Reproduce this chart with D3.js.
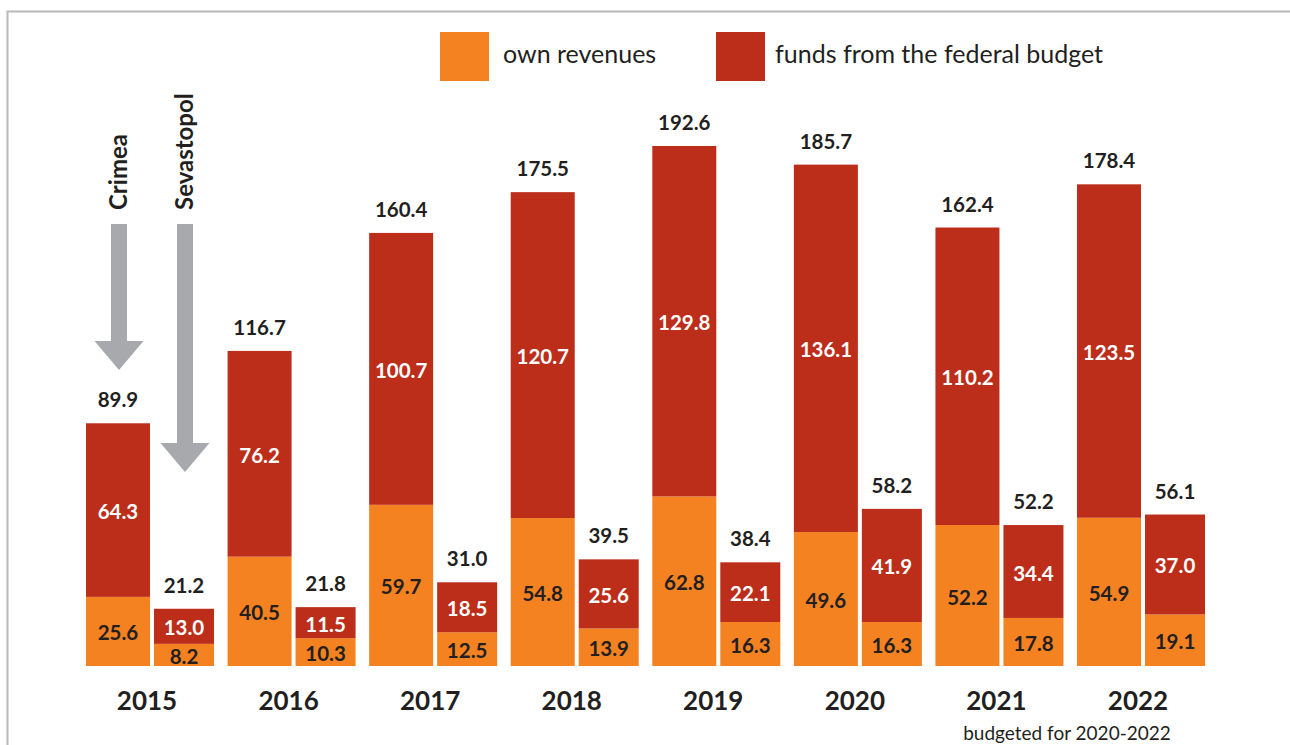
<!DOCTYPE html>
<html>
<head>
<meta charset="utf-8">
<script src="https://cdn.jsdelivr.net/npm/d3@7"></script>
<style>
  html, body { margin: 0; padding: 0; background: #fff; }
  svg { display: block; }
  text { font-family: Lato, "Open Sans", sans-serif; }
</style>
</head>
<body>
<svg id="chart" width="1290" height="745"></svg>
<script>
// Budget revenues of Crimea and Sevastopol, bn rubles
const years = ["2015", "2016", "2017", "2018", "2019", "2020", "2021", "2022"];
const regions = ["Crimea", "Sevastopol"];
const crimeaOwn = [25.6, 40.5, 59.7, 54.8, 62.8, 49.6, 52.2, 54.9];
const crimeaFederal = [64.3, 76.2, 100.7, 120.7, 129.8, 136.1, 110.2, 123.5];
const sevastopolOwn = [8.2, 10.3, 12.5, 13.9, 16.3, 16.3, 17.8, 19.1];
const sevastopolFederal = [13.0, 11.5, 18.5, 25.6, 22.1, 41.9, 34.4, 37.0];
const legendLabels = ["own revenues", "funds from the federal budget"];
const footnote = "budgeted for 2020-2022";

const ORANGE = "#f48220";
const RED = "#bc2d1a";
const GREY = "#a7a9ac";
const INK = "#231f20";

const svg = d3.select("#chart");

// frame
svg.append("rect")
  .attr("x", 7.5).attr("y", 11.5)
  .attr("width", 1300).attr("height", 760)
  .attr("fill", "none").attr("stroke", "#b8b8b8").attr("stroke-width", 2);

const rows = [];
years.forEach((yr, i) => {
  rows.push({ year: yr, region: "Crimea", own: crimeaOwn[i], fed: crimeaFederal[i] });
  rows.push({ year: yr, region: "Sevastopol", own: sevastopolOwn[i], fed: sevastopolFederal[i] });
});

const x = d3.scaleBand().domain(years).range([86, 1205]).paddingInner(0.096).paddingOuter(0);
const y = d3.scaleLinear().domain([0, 200]).range([666, 126]);

// Crimea bars are drawn a little wider than Sevastopol ones
const barX = d => x(d.year) + (d.region === regions[0] ? 0 : 68);
const barW = d => (d.region === regions[0] ? 64 : 60);

const stack = d3.stack().keys(["own", "fed"]);
const series = stack(rows);
const colors = { own: ORANGE, fed: RED };

const gBars = svg.append("g");
series.forEach(s => {
  gBars.selectAll(null).data(s).join("rect")
    .attr("x", d => barX(d.data))
    .attr("width", d => barW(d.data))
    .attr("y", d => y(d[1]))
    .attr("height", d => y(d[0]) - y(d[1]))
    .attr("fill", colors[s.key]);

  // segment values
  gBars.selectAll(null).data(s).join("text")
    .attr("x", d => barX(d.data) + barW(d.data) / 2)
    .attr("y", d => (y(d[0]) + y(d[1])) / 2 + 1)
    .attr("text-anchor", "middle")
    .attr("dominant-baseline", "central")
    .attr("font-size", 20.5).attr("font-weight", 700)
    .attr("fill", s.key === "fed" ? "#fff" : INK)
    .text(d => (d[1] - d[0]).toFixed(1));
});

// totals above bars
gBars.selectAll(null).data(rows).join("text")
  .attr("x", d => barX(d) + barW(d) / 2)
  .attr("y", d => y(d.own + d.fed) - 24)
  .attr("text-anchor", "middle")
  .attr("dominant-baseline", "central")
  .attr("font-size", 20.5).attr("font-weight", 700)
  .attr("fill", INK)
  .text(d => (d.own + d.fed).toFixed(1));

// year labels
svg.append("g").selectAll("text").data(years).join("text")
  .attr("x", d => x(d) + x.bandwidth() / 2 - 3)
  .attr("y", 700)
  .attr("text-anchor", "middle")
  .attr("dominant-baseline", "central")
  .attr("font-size", 26).attr("font-weight", 700)
  .attr("fill", INK)
  .text(d => d);

svg.append("text")
  .attr("x", 1067).attr("y", 740)
  .attr("text-anchor", "middle")
  .attr("font-size", 19).attr("fill", INK)
  .text(footnote);

// legend
const legend = svg.append("g");
const legendX = [440, 716];
legendLabels.forEach((lab, i) => {
  legend.append("rect")
    .attr("x", legendX[i]).attr("y", 32)
    .attr("width", 49).attr("height", 49)
    .attr("fill", i === 0 ? ORANGE : RED);
  legend.append("text")
    .attr("x", legendX[i] + (i === 0 ? 63 : 59)).attr("y", 63)
    .attr("font-size", 25).attr("fill", INK)
    .text(lab);
});

// region pointers over the 2015 pair
const pointers = [
  { name: regions[0], top: 224, tip: 370 },
  { name: regions[1], top: 224, tip: 472 }
];
const ann = svg.append("g");
pointers.forEach(p => {
  const cx = barX({ year: years[0], region: p.name }) + barW({ region: p.name }) / 2 + 1;
  const shaft = 8, head = 24.5, headH = 29;
  const path = d3.path();
  path.moveTo(cx - shaft, p.top);
  path.lineTo(cx + shaft, p.top);
  path.lineTo(cx + shaft, p.tip - headH);
  path.lineTo(cx + head, p.tip - headH);
  path.lineTo(cx, p.tip);
  path.lineTo(cx - head, p.tip - headH);
  path.lineTo(cx - shaft, p.tip - headH);
  path.closePath();
  ann.append("path").attr("d", path.toString()).attr("fill", GREY);

  ann.append("text")
    .attr("transform", `translate(${cx + 8},210) rotate(-90)`)
    .attr("font-size", 24).attr("font-weight", 700)
    .attr("fill", INK)
    .text(p.name);
});
</script>
</body>
</html>
